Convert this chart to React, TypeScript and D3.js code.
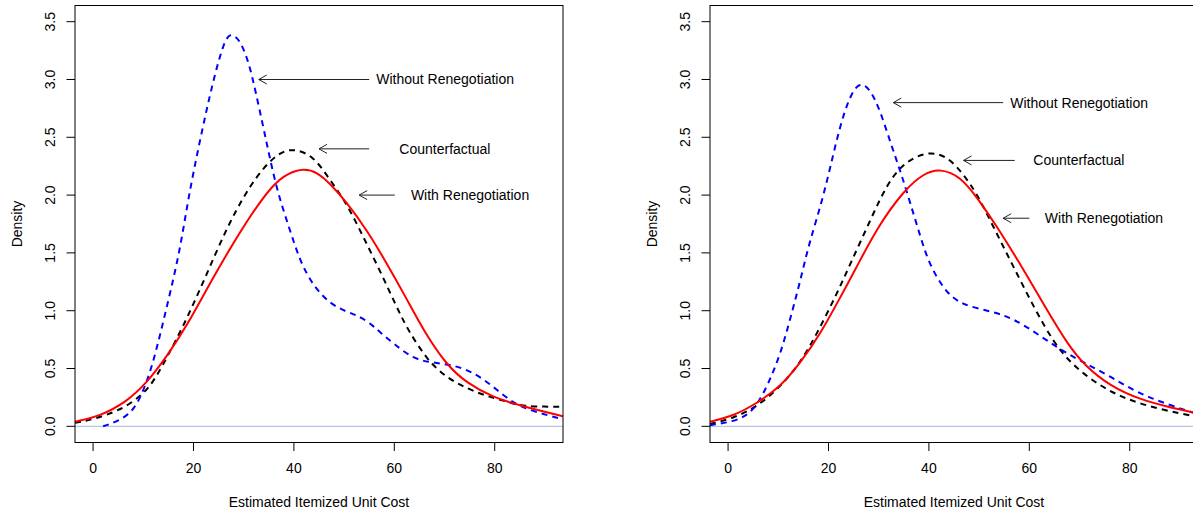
import React from "react";
import * as d3 from "d3";

// left panel densities
const leftBlueX = [2, 5.3, 8.3, 10.6, 12.3, 15, 17.3, 18.9, 21.3, 23.9, 25.9, 27.2, 29.2, 30.9, 31.9, 33.9, 35.2, 36.9, 39.2, 41.2, 43.9, 47.2, 50.5, 53.2, 55.8, 57.2, 59.8, 63.8, 67.8, 71.7, 75.7, 79.7, 83.6, 87.6, 93.6];
const leftBlueY = [0.0, 0.05, 0.14, 0.37, 0.6, 1.09, 1.52, 1.96, 2.48, 2.99, 3.3, 3.41, 3.35, 3.16, 2.99, 2.59, 2.32, 2.0, 1.7, 1.43, 1.21, 1.06, 0.99, 0.95, 0.87, 0.81, 0.72, 0.58, 0.55, 0.53, 0.47, 0.345, 0.2, 0.13, 0.06];
const leftBlackX = [-3.6, 0, 5, 10, 12.5, 15, 17.9, 21.9, 27.2, 32.6, 37.2, 40.2, 43.9, 47.2, 50.5, 53.8, 57.1, 60.5, 62.5, 66.5, 70.4, 74.4, 78.4, 82.4, 85, 88, 93.6];
const leftBlackY = [0.03, 0.06, 0.13, 0.27, 0.42, 0.62, 0.86, 1.24, 1.78, 2.18, 2.38, 2.4, 2.34, 2.13, 1.93, 1.64, 1.35, 1.03, 0.85, 0.575, 0.42, 0.33, 0.26, 0.215, 0.18, 0.17, 0.17];
const leftRedX = [-3.6, 1.3, 6.6, 10.6, 14.6, 18.6, 23.9, 30.6, 35.9, 38.9, 41.9, 44.6, 47.2, 50.5, 54.5, 58.5, 62.5, 65.8, 70.4, 74.4, 79.7, 85, 93.6];
const leftRedY = [0.04, 0.086, 0.21, 0.37, 0.6, 0.86, 1.29, 1.78, 2.1, 2.19, 2.23, 2.2, 2.1, 1.94, 1.7, 1.41, 1.1, 0.83, 0.53, 0.375, 0.25, 0.18, 0.086];

// right panel densities
const rightBlueX = [-3.6, 1.1, 4, 5.8, 7.8, 10.5, 12.5, 14.4, 16.1, 19, 21.7, 23.7, 26, 28.3, 30.3, 32.3, 34.3, 36.3, 38.3, 40, 43, 46.3, 52.9, 56.9, 61.6, 66.3, 70.9, 76.2, 81.5, 87.5, 93.6];
const rightBlueY = [0.01, 0.04, 0.1, 0.19, 0.345, 0.63, 0.95, 1.26, 1.58, 1.98, 2.5, 2.8, 2.99, 2.92, 2.73, 2.46, 2.21, 1.93, 1.64, 1.41, 1.18, 1.05, 0.99, 0.93, 0.8, 0.66, 0.55, 0.43, 0.29, 0.19, 0.105];
const rightBlackX = [-3.6, 1.1, 5.8, 10.5, 14.4, 17.7, 21.7, 24.4, 28.3, 31.7, 35, 39.6, 43.6, 46.9, 49.6, 52.9, 56.5, 60.9, 64.9, 68.8, 74.2, 79.5, 86.2, 93.6];
const rightBlackY = [0.02, 0.07, 0.17, 0.345, 0.55, 0.8, 1.15, 1.41, 1.78, 2.1, 2.28, 2.38, 2.34, 2.18, 2.01, 1.72, 1.41, 1.03, 0.72, 0.52, 0.345, 0.23, 0.145, 0.08];
const rightRedX = [-3.6, 1.1, 5.8, 10.5, 14.4, 18.4, 22.4, 25.4, 29.7, 35, 39, 42.3, 46.3, 49.6, 54, 59.2, 63.6, 67.5, 70.9, 76.2, 82.2, 87.5, 93.6];
const rightRedY = [0.04, 0.09, 0.2, 0.345, 0.55, 0.8, 1.12, 1.36, 1.72, 2.04, 2.19, 2.23, 2.16, 1.98, 1.7, 1.33, 1.0, 0.72, 0.53, 0.345, 0.23, 0.17, 0.11];

const xTicks = [0, 20, 40, 60, 80];
const yTicks = [0, 0.5, 1, 1.5, 2, 2.5, 3, 3.5];
const labels = ["Without Renegotiation", "Counterfactual", "With Renegotiation"];
// arrow from x0 to x1 at y, text at tx
const leftArrows = [[33, 55, 3.0, 56.4], [45, 55, 2.4, 61], [53, 60.1, 2.0, 63.3]];
const rightArrows = [[32.9, 54.8, 2.8, 56.2], [46.9, 57.1, 2.3, 60.8], [54.8, 60, 1.8, 63.1]];

const font = "'Liberation Sans', Arial, Helvetica, sans-serif";

type Series = { xs: number[]; ys: number[]; color: string; dash?: string };

function Panel({ left, series, arrows, id }: { left: number; series: Series[]; arrows: number[][]; id: string }) {
  const top = 5.5;
  const bottom = 442.5;
  const width = 488;
  const xlim = [0, 90];
  const ylim = [0, 3.5];
  const xpad = (xlim[1] - xlim[0]) * 0.04;
  const ypad = (ylim[1] - ylim[0]) * 0.04;
  const x = d3.scaleLinear().domain([xlim[0] - xpad, xlim[1] + xpad]).range([left, left + width]);
  const y = d3.scaleLinear().domain([ylim[0] - ypad, ylim[1] + ypad]).range([bottom, top]);
  const line = d3
    .line<[number, number]>()
    .x((d) => x(d[0]))
    .y((d) => y(d[1]))
    .curve(d3.curveBasis);
  const cx = left + width / 2;
  const cy = (top + bottom) / 2;

  return (
    <g>
      <defs>
        <clipPath id={id}>
          <rect x={left} y={top} width={width} height={bottom - top} />
        </clipPath>
      </defs>
      <line x1={left} x2={left + width} y1={y(0)} y2={y(0)} stroke="#a3b8df" strokeWidth={1} />
      <g clipPath={`url(#${id})`}>
        {series.map((s, i) => (
          <path
            key={i}
            d={line(s.xs.map((v, j) => [v, s.ys[j]] as [number, number])) || ""}
            fill="none"
            stroke={s.color}
            strokeWidth={2}
            strokeDasharray={s.dash}
          />
        ))}
      </g>
      <rect x={left} y={top} width={width} height={bottom - top} fill="none" stroke="#000" strokeWidth={1} />
      {xTicks.map((t) => (
        <g key={t}>
          <line x1={x(t)} x2={x(t)} y1={bottom} y2={bottom + 8.5} stroke="#000" />
          <text x={x(t)} y={472.5} textAnchor="middle" fontSize={14} fontFamily={font}>
            {t}
          </text>
        </g>
      ))}
      {yTicks.map((t) => (
        <g key={t}>
          <line x1={left - 8.5} x2={left} y1={y(t)} y2={y(t)} stroke="#000" />
          <text
            transform={`translate(${left - 20},${y(t)}) rotate(-90)`}
            textAnchor="middle"
            fontSize={14}
            fontFamily={font}
          >
            {t.toFixed(1)}
          </text>
        </g>
      ))}
      <text x={cx} y={507} textAnchor="middle" fontSize={14} fontFamily={font}>
        Estimated Itemized Unit Cost
      </text>
      <text transform={`translate(${left - 53},${cy}) rotate(-90)`} textAnchor="middle" fontSize={14} fontFamily={font}>
        Density
      </text>
      {arrows.map((a, i) => {
        const x0 = x(a[0]);
        const x1 = x(a[1]);
        const yy = y(a[2]);
        return (
          <g key={i}>
            <line x1={x0} x2={x1} y1={yy} y2={yy} stroke="#222" strokeWidth={1} />
            <polyline
              points={`${x0 + 8},${yy - 4.5} ${x0},${yy} ${x0 + 8},${yy + 4.5}`}
              fill="none"
              stroke="#222"
              strokeWidth={1}
            />
            <text x={x(a[3])} y={yy} dy="0.35em" fontSize={14} fontFamily={font}>
              {labels[i]}
            </text>
          </g>
        );
      })}
    </g>
  );
}

export default function App() {
  const leftSeries: Series[] = [
    { xs: leftBlackX, ys: leftBlackY, color: "#000", dash: "6,5" },
    { xs: leftBlueX, ys: leftBlueY, color: "#0000ff", dash: "6,5" },
    { xs: leftRedX, ys: leftRedY, color: "#ff0000" },
  ];
  const rightSeries: Series[] = [
    { xs: rightBlackX, ys: rightBlackY, color: "#000", dash: "6,5" },
    { xs: rightBlueX, ys: rightBlueY, color: "#0000ff", dash: "6,5" },
    { xs: rightRedX, ys: rightRedY, color: "#ff0000" },
  ];
  return (
    <svg
      width={1193}
      height={513}
      style={{ position: "absolute", left: 0, top: 0, background: "#fff" }}
    >
      <rect width={1193} height={513} fill="#fff" />
      <Panel left={75} series={leftSeries} arrows={leftArrows} id="clipL" />
      <Panel left={710} series={rightSeries} arrows={rightArrows} id="clipR" />
    </svg>
  );
}
